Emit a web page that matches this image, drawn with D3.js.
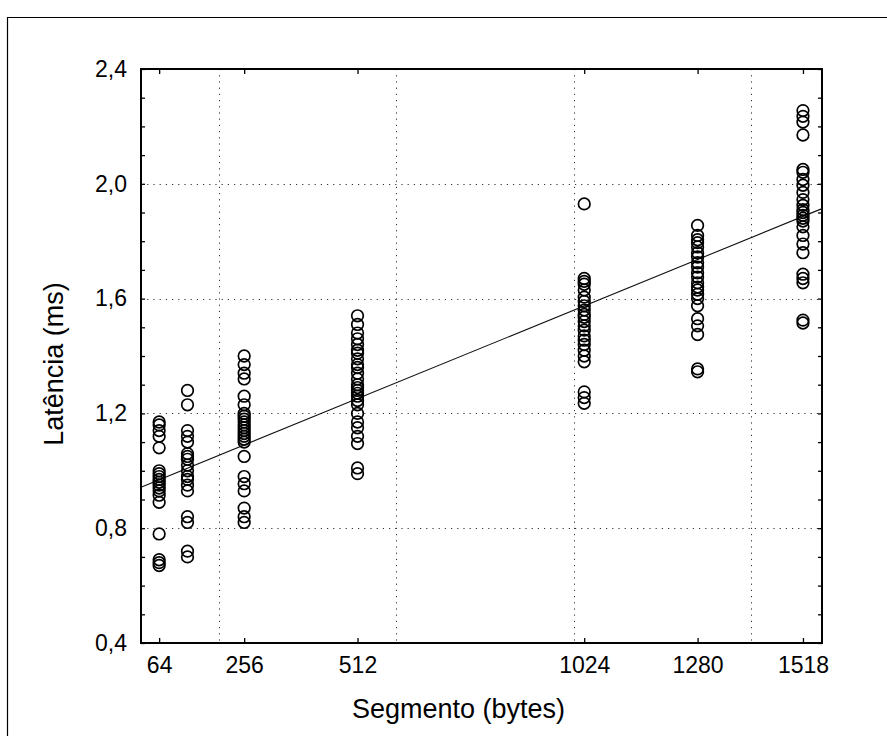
<!DOCTYPE html>
<html>
<head>
<meta charset="utf-8">
<script src="https://cdn.jsdelivr.net/npm/d3@7"></script>
<style>
  html, body { margin: 0; padding: 0; background: #fff; }
  svg { display: block; }
  text { font-family: "Liberation Sans", Arial, sans-serif; fill: #000; }
</style>
</head>
<body>
<svg id="chart" width="887" height="736"></svg>
<script>
// Segment sizes (bytes) used as x positions of each column of measurements
const segments = [64, 128, 256, 512, 1024, 1280, 1518];

// Latency measurements (ms) for each segment size
const lat64   = [1.17, 1.16, 1.14, 1.12, 1.08, 1.00, 0.99, 0.98, 0.97, 0.96, 0.95, 0.94, 0.93, 0.915, 0.89, 0.78, 0.69, 0.68, 0.67];
const lat128  = [1.28, 1.23, 1.14, 1.12, 1.10, 1.06, 1.05, 1.04, 1.02, 1.00, 0.98, 0.97, 0.95, 0.93, 0.84, 0.82, 0.72, 0.70];
const lat256  = [1.40, 1.37, 1.34, 1.32, 1.26, 1.23, 1.20, 1.19, 1.18, 1.17, 1.16, 1.15, 1.14, 1.13, 1.12, 1.11, 1.10, 1.05, 0.98, 0.955, 0.93, 0.87, 0.84, 0.82];
const lat512  = [1.54, 1.51, 1.48, 1.46, 1.44, 1.42, 1.41, 1.39, 1.37, 1.36, 1.34, 1.32, 1.30, 1.29, 1.28, 1.27, 1.26, 1.245, 1.23, 1.20, 1.17, 1.15, 1.12, 1.095, 1.01, 0.99];
const lat1024 = [1.93, 1.67, 1.66, 1.65, 1.63, 1.605, 1.59, 1.575, 1.56, 1.545, 1.535, 1.52, 1.505, 1.49, 1.47, 1.455, 1.44, 1.42, 1.40, 1.38, 1.275, 1.255, 1.235];
const lat1280 = [1.855, 1.82, 1.805, 1.795, 1.78, 1.76, 1.745, 1.725, 1.71, 1.69, 1.675, 1.655, 1.64, 1.63, 1.615, 1.60, 1.575, 1.53, 1.505, 1.475, 1.355, 1.345];
const lat1518 = [2.255, 2.235, 2.215, 2.17, 2.05, 2.04, 2.015, 1.995, 1.97, 1.945, 1.925, 1.91, 1.90, 1.89, 1.88, 1.87, 1.85, 1.82, 1.79, 1.76, 1.685, 1.67, 1.655, 1.525, 1.515];
const latencies = [lat64, lat128, lat256, lat512, lat1024, lat1280, lat1518];

// Linear fit: latency = intercept + slope * bytes
const fitIntercept = 0.9285;
const fitSlope = 0.000631;

// Axis labels
const xTickValues = [64, 256, 512, 1024, 1280, 1518];
const xGridValues = [200, 600, 1000, 1400];
const yTickValues = [0.4, 0.8, 1.2, 1.6, 2.0, 2.4];
const yMinorValues = d3.range(4, 25).map(d => d / 10);
const xTitle = "Segmento (bytes)";
const yTitle = "Latência (ms)";

const svg = d3.select("#chart");
const plot = { left: 141, right: 822, top: 69, bottom: 643 };

const x = d3.scaleLinear().domain([23, 1561]).range([plot.left, plot.right]);
const y = d3.scaleLinear().domain([0.4, 2.4]).range([plot.bottom, plot.top]);

// outer frame of the figure
svg.append("path")
  .attr("d", "M7.5,736 V17.5 H887")
  .attr("fill", "none").attr("stroke", "#000").attr("stroke-width", 1.2);

// dotted grid
const grid = svg.append("g").attr("stroke", "#333").attr("stroke-width", 1)
  .attr("stroke-dasharray", "1.2 5");
grid.selectAll("line.gx").data(xGridValues).join("line")
  .attr("x1", d => Math.round(x(d)) + 0.5).attr("x2", d => Math.round(x(d)) + 0.5)
  .attr("y1", plot.top).attr("y2", plot.bottom);
grid.selectAll("line.gy").data(yTickValues.slice(1, -1)).join("line")
  .attr("y1", d => Math.round(y(d)) + 0.5).attr("y2", d => Math.round(y(d)) + 0.5)
  .attr("x1", plot.left).attr("x2", plot.right);

// axes (tick labels + inward ticks)
const fmt = d3.format(".1f");
const comma = d => fmt(d).replace(".", ",");

const xAxis = svg.append("g").attr("transform", `translate(0,${plot.bottom})`)
  .call(d3.axisBottom(x).tickValues(xTickValues).tickSize(-5).tickPadding(14).tickFormat(d3.format("d")));
xAxis.select(".domain").remove();
xAxis.selectAll("text").attr("font-size", 23).attr("font-family", "Liberation Sans, Arial, sans-serif");

const xAxisTop = svg.append("g").attr("transform", `translate(0,${plot.top})`)
  .call(d3.axisTop(x).tickValues(xTickValues).tickSize(-5).tickFormat(""));
xAxisTop.select(".domain").remove();

const yAxis = svg.append("g").attr("transform", `translate(${plot.left},0)`)
  .call(d3.axisLeft(y).tickValues(yTickValues).tickSize(0).tickPadding(14).tickFormat(comma));
yAxis.select(".domain").remove();
yAxis.selectAll("text").attr("font-size", 23).attr("font-family", "Liberation Sans, Arial, sans-serif");

const yMinorL = svg.append("g").attr("transform", `translate(${plot.left},0)`)
  .call(d3.axisLeft(y).tickValues(yMinorValues).tickSize(-4).tickFormat(""));
yMinorL.select(".domain").remove();
const yMinorR = svg.append("g").attr("transform", `translate(${plot.right},0)`)
  .call(d3.axisRight(y).tickValues(yMinorValues).tickSize(-4).tickFormat(""));
yMinorR.select(".domain").remove();
svg.selectAll(".tick line").attr("stroke", "#000").attr("stroke-width", 1.3);

// plot frame
svg.append("rect")
  .attr("x", plot.left).attr("y", plot.top)
  .attr("width", plot.right - plot.left).attr("height", plot.bottom - plot.top)
  .attr("fill", "none").attr("stroke", "#000").attr("stroke-width", 2);

// regression line
const xd = x.domain();
svg.append("line")
  .attr("x1", x(xd[0])).attr("y1", y(fitIntercept + fitSlope * xd[0]))
  .attr("x2", x(xd[1])).attr("y2", y(fitIntercept + fitSlope * xd[1]))
  .attr("stroke", "#111").attr("stroke-width", 1.1);

// measurement points
const points = segments.flatMap((s, i) => latencies[i].map(v => ({ s, v })));
svg.append("g").selectAll("circle").data(points).join("circle")
  .attr("cx", d => x(d.s)).attr("cy", d => y(d.v)).attr("r", 5.8)
  .attr("fill", "none").attr("stroke", "#000").attr("stroke-width", 1.7);

// axis titles
svg.append("text")
  .attr("x", (plot.left + plot.right) / 2 - 23).attr("y", 718)
  .attr("text-anchor", "middle").attr("font-size", 27).text(xTitle);
svg.append("text")
  .attr("transform", `translate(63,${(plot.top + plot.bottom) / 2 + 8}) rotate(-90)`)
  .attr("text-anchor", "middle").attr("font-size", 27).text(yTitle);
</script>
</body>
</html>
